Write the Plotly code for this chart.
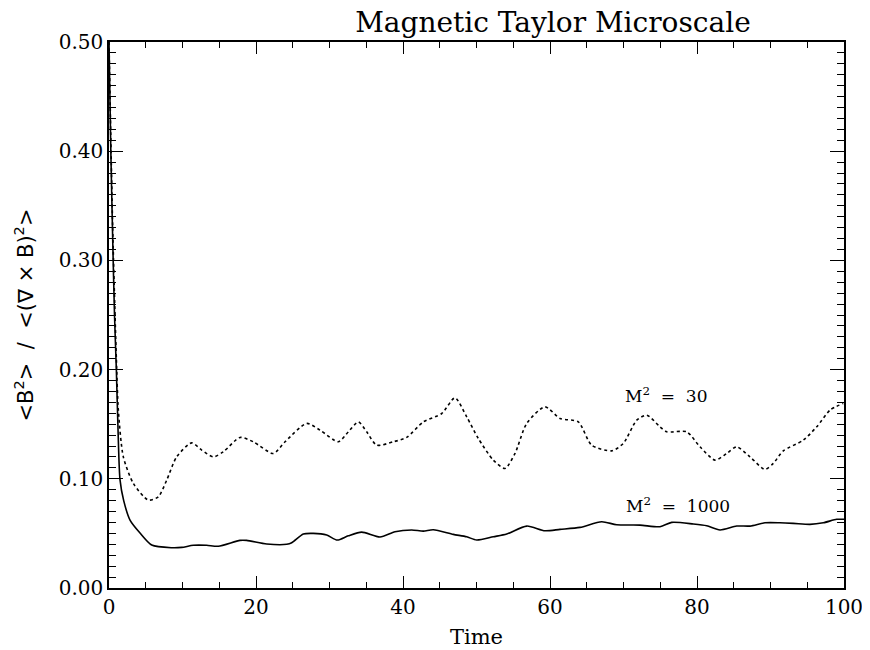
import plotly.graph_objects as go

# M^2 = 1000 (solid)
t_1000 = [0.0, 0.25, 0.5, 0.75, 1.0, 1.25, 1.5, 2.0, 2.86, 4.22, 5.81, 8.53, 9.89, 11.47,
          13.29, 14.87, 17.82, 18.73, 21.46, 24.18, 24.86, 26.44, 27.80, 29.62, 31.06,
          32.56, 34.38, 36.87, 38.91, 41.18, 42.76, 44.12, 46.84, 48.67, 50.03, 52.29,
          54.11, 56.83, 59.32, 61.36, 64.08, 67.03, 69.07, 72.24, 74.97, 76.56, 79.50,
          81.32, 83.13, 85.40, 87.21, 89.25, 91.29, 93.10, 95.37, 97.18, 99.01, 100.0]
v_1000 = [0.50, 0.40, 0.32, 0.25, 0.20, 0.14, 0.099, 0.080, 0.0622, 0.0503, 0.0393, 0.0369,
          0.0372, 0.0391, 0.0391, 0.0382, 0.0436, 0.0436, 0.0403, 0.0400, 0.0414, 0.0494,
          0.0500, 0.0485, 0.0439, 0.0478, 0.0512, 0.0467, 0.0515, 0.0531, 0.0521, 0.0533,
          0.0491, 0.0469, 0.0439, 0.0469, 0.0494, 0.0567, 0.0524, 0.0537, 0.0555, 0.0607,
          0.0579, 0.0576, 0.0561, 0.0601, 0.0586, 0.0570, 0.0531, 0.0567, 0.0567, 0.0597,
          0.0597, 0.0592, 0.0583, 0.0597, 0.0629, 0.0629]

# M^2 = 30 (dotted)
t_30 = [0.0, 0.5, 1.0, 1.27, 1.95, 3.31, 5.35, 6.71, 7.85, 9.21, 11.25, 12.61, 14.19, 15.55,
        17.82, 19.63, 22.35, 23.95, 26.90, 28.71, 31.20, 32.56, 33.92, 35.06, 36.42, 38.68,
        40.50, 42.76, 45.27, 47.07, 48.67, 50.24, 52.29, 53.88, 55.24, 56.83, 59.32, 61.36,
        63.85, 65.67, 68.39, 69.97, 71.80, 73.16, 74.97, 75.88, 78.60, 80.41, 82.45, 84.04,
        85.40, 87.21, 89.25, 90.38, 91.74, 94.46, 96.29, 98.10, 99.90]
v_30 = [0.50, 0.33, 0.21, 0.163, 0.1201, 0.0958, 0.0805, 0.0835, 0.0988, 0.1201, 0.1329,
        0.1263, 0.1201, 0.1247, 0.1379, 0.1339, 0.1232, 0.1339, 0.1507, 0.1446, 0.1339,
        0.1430, 0.1521, 0.1430, 0.1308, 0.1339, 0.1379, 0.1521, 0.1598, 0.1741, 0.1567,
        0.1370, 0.1171, 0.1095, 0.1232, 0.1507, 0.1659, 0.1553, 0.1521, 0.1308, 0.1256,
        0.1324, 0.1537, 0.1583, 0.1476, 0.1430, 0.1430, 0.1293, 0.1171, 0.1232, 0.1293,
        0.1201, 0.1086, 0.1141, 0.1256, 0.1354, 0.1476, 0.1629, 0.1690]

labels = ["M<sup>2</sup>  =  30", "M<sup>2</sup>  =  1000"]
label_t = [75.8, 77.4]
label_v = [0.1766, 0.0759]

x_ticks = [0, 20, 40, 60, 80, 100]
y_ticks = [0.0, 0.1, 0.2, 0.3, 0.4, 0.5]

serif = "DejaVu Serif"

fig = go.Figure()
fig.add_trace(go.Scatter(x=t_30, y=v_30, mode="lines",
                         line=dict(color="black", width=1.6, dash="dot", shape="spline", smoothing=0.7),
                         showlegend=False))
fig.add_trace(go.Scatter(x=t_1000, y=v_1000, mode="lines",
                         line=dict(color="black", width=1.6, shape="spline", smoothing=0.7),
                         showlegend=False))

for txt, tx, ty in zip(labels, label_t, label_v):
    fig.add_annotation(x=tx, y=ty, text=txt, showarrow=False,
                       font=dict(family=serif, size=17, color="black"),
                       xanchor="center", yanchor="middle")

fig.update_layout(
    width=870, height=650,
    margin=dict(l=101, r=34, t=34, b=70, autoexpand=False),
    paper_bgcolor="white", plot_bgcolor="white",
    title=dict(text="Magnetic Taylor Microscale", x=0.604, xref="paper", xanchor="center",
               y=1 - 14 / 650, yref="container", yanchor="middle",
               font=dict(family=serif, size=28, color="black")),
    font=dict(family=serif, color="black"),
)

fig.update_xaxes(
    range=[0, 100], tickvals=x_ticks, ticktext=[str(v) for v in x_ticks],
    ticks="inside", ticklen=12, tickwidth=1.2, tickcolor="black",
    minor=dict(dtick=5, tick0=0, ticks="inside", ticklen=6, tickwidth=1.2, tickcolor="black"),
    showline=True, linecolor="black", linewidth=1.6, mirror="allticks",
    showgrid=False, zeroline=False, automargin=False,
    tickfont=dict(family=serif, size=20, color="black"),
    title=dict(text="Time", font=dict(family=serif, size=21, color="black"), standoff=12),
)
fig.update_yaxes(
    range=[0, 0.5], tickvals=y_ticks, ticktext=["%.2f" % v for v in y_ticks],
    ticks="inside", ticklen=14, tickwidth=1.2, tickcolor="black",
    minor=dict(dtick=0.01, tick0=0, ticks="inside", ticklen=7, tickwidth=1.2, tickcolor="black"),
    showline=True, linecolor="black", linewidth=1.6, mirror="allticks",
    showgrid=False, zeroline=False, automargin=False,
    tickfont=dict(family=serif, size=20, color="black"),
    title=dict(text="&lt;B<sup>2</sup>&gt;  /  &lt;(∇ × B)<sup>2</sup>&gt;",
               font=dict(family="DejaVu Sans", size=21, color="black"), standoff=19),
)

fig.write_html("out.html")
